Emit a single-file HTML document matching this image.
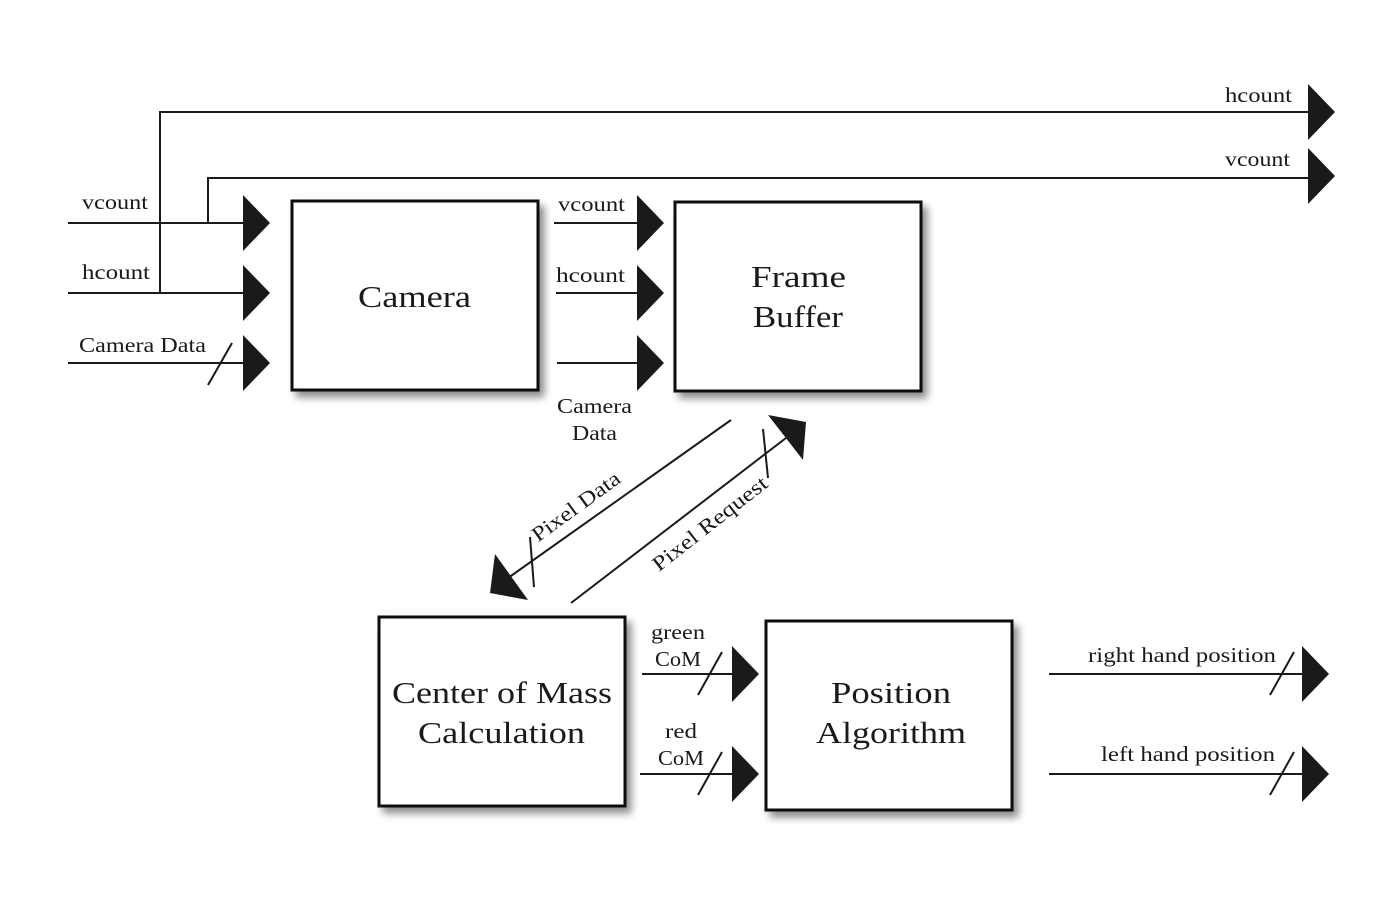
<!DOCTYPE html>
<html><head><meta charset="utf-8"><style>
html,body{margin:0;padding:0;background:#fff;}
svg{display:block;}
text{font-family:"Liberation Serif",serif;fill:#1a1a1a;}
</style></head><body>
<svg width="1400" height="900" viewBox="0 0 1400 900" xmlns="http://www.w3.org/2000/svg">
<defs>
<filter id="sh" x="-10%" y="-10%" width="130%" height="130%">
<feGaussianBlur in="SourceAlpha" stdDeviation="4"/>
<feOffset dx="5" dy="6" result="b"/>
<feComponentTransfer><feFuncA type="linear" slope="0.45"/></feComponentTransfer>
<feMerge><feMergeNode/><feMergeNode in="SourceGraphic"/></feMerge>
</filter>
</defs>
<g stroke="#1a1a1a" stroke-width="2" fill="none">
<polyline points="160,293 160,112 1308,112"/>
<polyline points="208,223 208,178 1308,178"/>
<line x1="68" y1="223" x2="244" y2="223"/>
<line x1="68" y1="293" x2="244" y2="293"/>
<line x1="68" y1="363" x2="244" y2="363"/>
<line x1="208" y1="385" x2="232" y2="343"/>
<line x1="554" y1="223" x2="638" y2="223"/>
<line x1="556" y1="293" x2="638" y2="293"/>
<line x1="557" y1="363" x2="638" y2="363"/>
<line x1="731" y1="420" x2="508" y2="578"/>
<line x1="530" y1="537" x2="534" y2="587"/>
<line x1="571" y1="603" x2="786" y2="438"/>
<line x1="763" y1="429" x2="768" y2="478"/>
<line x1="642" y1="674" x2="733" y2="674"/>
<line x1="698" y1="695" x2="722" y2="652"/>
<line x1="640" y1="774" x2="733" y2="774"/>
<line x1="698" y1="795" x2="722" y2="752"/>
<line x1="1049" y1="674" x2="1303" y2="674"/>
<line x1="1270" y1="695" x2="1294" y2="652"/>
<line x1="1049" y1="774" x2="1303" y2="774"/>
<line x1="1270" y1="795" x2="1294" y2="752"/>
</g>
<g fill="#1a1a1a">
<polygon points="1308,84 1335,112 1308,140"/>
<polygon points="1308,148 1335,176 1308,204"/>
<polygon points="243,195 270,223 243,251"/>
<polygon points="243,265 270,293 243,321"/>
<polygon points="243,335 270,363 243,391"/>
<polygon points="637,195 664,223 637,251"/>
<polygon points="637,265 664,293 637,321"/>
<polygon points="637,335 664,363 637,391"/>
<polygon points="490,593 528,600 495,554"/>
<polygon points="768,415 806,422 803,460"/>
<polygon points="732,646 759,674 732,702"/>
<polygon points="732,746 759,774 732,802"/>
<polygon points="1302,646 1329,674 1302,702"/>
<polygon points="1302,746 1329,774 1302,802"/>
</g>
<g fill="#fff" stroke="#111" stroke-width="3" filter="url(#sh)">
<rect x="292" y="201" width="246" height="189"/>
<rect x="675" y="202" width="246" height="189"/>
<rect x="379" y="617" width="246" height="189"/>
<rect x="766" y="621" width="246" height="189"/>
</g>
<g font-size="31" lengthAdjust="spacingAndGlyphs">
<text x="358" y="307" textLength="113" lengthAdjust="spacingAndGlyphs">Camera</text>
<text x="751" y="287" textLength="95" lengthAdjust="spacingAndGlyphs">Frame</text>
<text x="753" y="327" textLength="90" lengthAdjust="spacingAndGlyphs">Buffer</text>
<text x="392" y="703" textLength="220" lengthAdjust="spacingAndGlyphs">Center of Mass</text>
<text x="418" y="743" textLength="167" lengthAdjust="spacingAndGlyphs">Calculation</text>
<text x="831" y="703" textLength="120" lengthAdjust="spacingAndGlyphs">Position</text>
<text x="816" y="743" textLength="150" lengthAdjust="spacingAndGlyphs">Algorithm</text>
</g>
<g font-size="21">
<text x="1225" y="102" textLength="67" lengthAdjust="spacingAndGlyphs">hcount</text>
<text x="1225" y="166" textLength="65" lengthAdjust="spacingAndGlyphs">vcount</text>
<text x="82" y="209" textLength="66" lengthAdjust="spacingAndGlyphs">vcount</text>
<text x="82" y="279" textLength="68" lengthAdjust="spacingAndGlyphs">hcount</text>
<text x="79" y="352" textLength="127" lengthAdjust="spacingAndGlyphs">Camera Data</text>
<text x="558" y="211" textLength="67" lengthAdjust="spacingAndGlyphs">vcount</text>
<text x="556" y="282" textLength="69" lengthAdjust="spacingAndGlyphs">hcount</text>
<text x="557" y="413" textLength="75" lengthAdjust="spacingAndGlyphs">Camera</text>
<text x="572" y="440" textLength="45" lengthAdjust="spacingAndGlyphs">Data</text>
<text x="651" y="639" textLength="54" lengthAdjust="spacingAndGlyphs">green</text>
<text x="655" y="666" textLength="46" lengthAdjust="spacingAndGlyphs">CoM</text>
<text x="665" y="738" textLength="32" lengthAdjust="spacingAndGlyphs">red</text>
<text x="658" y="765" textLength="46" lengthAdjust="spacingAndGlyphs">CoM</text>
<text x="1088" y="662" textLength="188" lengthAdjust="spacingAndGlyphs">right hand position</text>
<text x="1101" y="761" textLength="174" lengthAdjust="spacingAndGlyphs">left hand position</text>
<text transform="translate(580,512) rotate(-36)" text-anchor="middle" textLength="104" lengthAdjust="spacingAndGlyphs">Pixel Data</text>
<text transform="translate(714,529) rotate(-38)" text-anchor="middle" textLength="140" lengthAdjust="spacingAndGlyphs">Pixel Request</text>
</g>
</svg>
</body></html>
